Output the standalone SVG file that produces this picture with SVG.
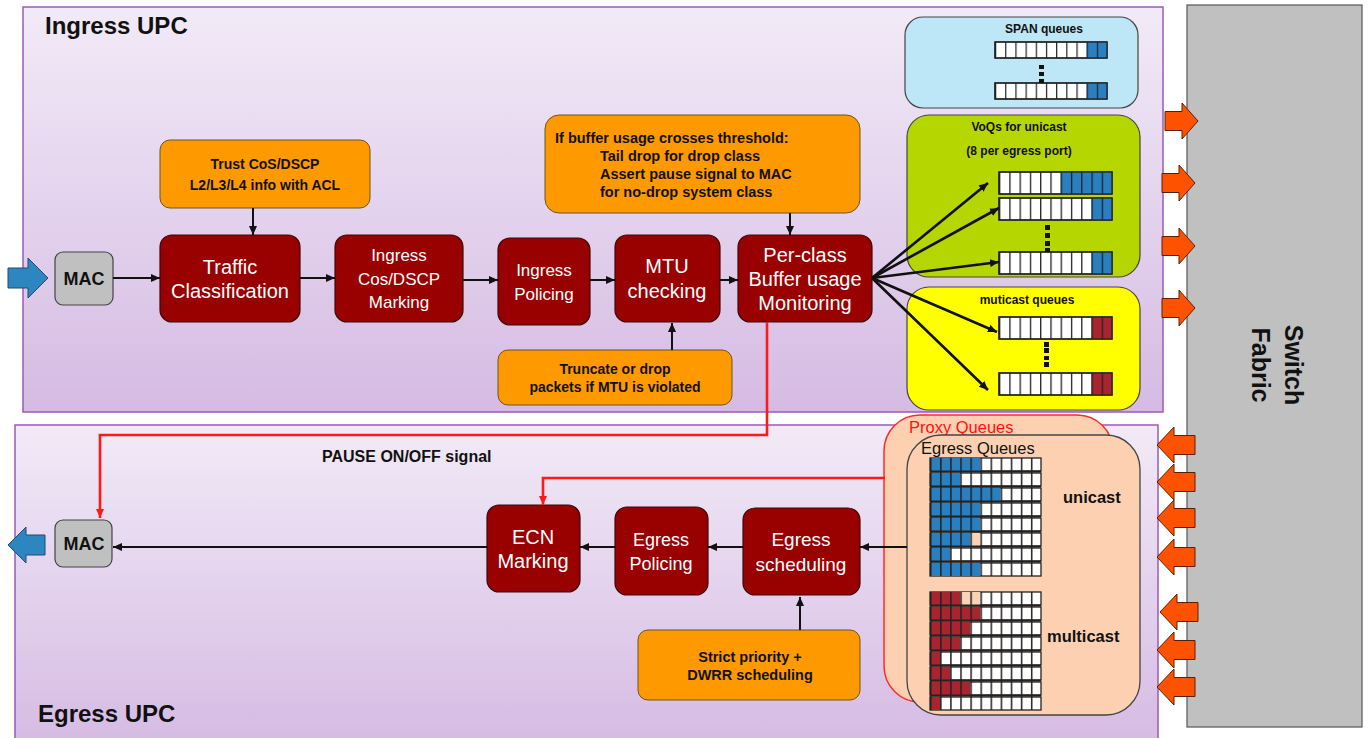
<svg xmlns="http://www.w3.org/2000/svg" width="1372" height="738" viewBox="0 0 1372 738">
<defs>
<linearGradient id="panel" x1="0" y1="0" x2="0" y2="1">
<stop offset="0" stop-color="#f2eaf7"/>
<stop offset="1" stop-color="#d5bbe3"/>
</linearGradient>
<marker id="ah" markerUnits="userSpaceOnUse" markerWidth="10" markerHeight="10" refX="9" refY="5" orient="auto">
<path d="M0,1 L9,5 L0,9 Z" fill="#111"/>
</marker>
<marker id="ahr" markerUnits="userSpaceOnUse" markerWidth="10" markerHeight="10" refX="9" refY="5" orient="auto">
<path d="M0,1 L9,5 L0,9 Z" fill="#ff1a1a"/>
</marker>
<pattern id="gS" patternUnits="userSpaceOnUse" x="995" y="0" width="10.18" height="10"><rect x="0" y="0" width="1.2" height="10" fill="#222"/></pattern>
<pattern id="gV" patternUnits="userSpaceOnUse" x="999" y="0" width="10.27" height="10"><rect x="0" y="0" width="1.3" height="10" fill="#222"/></pattern>
<pattern id="gE" patternUnits="userSpaceOnUse" x="930" y="0" width="10.09" height="10"><rect x="0" y="0" width="1.5" height="10" fill="#222"/></pattern>
<path id="arR" d="M0,-9.5 H17 V-18 L33,0 L17,18 V9.5 H0 Z"/>
<path id="arL" d="M0,0 L17,-18 V-9.5 H38 V9.5 H17 V18 Z"/>
</defs>
<style>
.panel{fill:url(#panel);stroke:#9b5bb5;stroke-width:1.5}
.node{fill:#990000;stroke:#3b0a0a;stroke-width:1.2}
.mac{fill:#c0c0c0;stroke:#444;stroke-width:1.2}
.note{fill:#ff9900;stroke:#6b5520;stroke-width:1}
.nt{font-family:"Liberation Sans",Arial,sans-serif;fill:#fff;text-anchor:middle}
.bt{font-family:"Liberation Sans",Arial,sans-serif;font-weight:bold;fill:#111}
.ct{text-anchor:middle}
.conn{stroke:#111;stroke-width:2;fill:none;marker-end:url(#ah)}
.connb{stroke:#111;stroke-width:2.6;fill:none;marker-end:url(#ah)}
.red{stroke:#ff1a1a;stroke-width:2.6;fill:none;marker-end:url(#ahr)}
.oa{fill:#ff5200;stroke:#5a2000;stroke-width:1}
.ba{fill:#2e86c1;stroke:#1c4d73;stroke-width:1}
.q{fill:#fff;stroke:#222;stroke-width:1.3}
.bl{fill:#2a7fc0}
.rd{fill:#a8252f}
.pc{fill:#fcd3b4}
.dot{fill:#111}
</style>
<rect x="0" y="0" width="1372" height="738" fill="#fff"/>

<g id="ingress-upc">
<rect class="panel" x="23" y="7" width="1140" height="405"/>
<text class="bt" x="45" y="34" font-size="24">Ingress UPC</text>
</g>
<g id="egress-upc">
<rect class="panel" x="15" y="425" width="1143" height="320"/>
<text class="bt" x="38" y="722" font-size="24">Egress  UPC</text>
</g>
<g id="switch-fabric">
<rect x="1187" y="5" width="175" height="722" fill="#c0c0c0" stroke="#555" stroke-width="1.2"/>
<text class="bt ct" font-size="25" transform="translate(1277,365) rotate(90)"><tspan x="0" y="-8">Switch</tspan><tspan x="0" y="25">Fabric</tspan></text>
</g>

<g id="fabric-arrows">
<use href="#arR" class="oa" x="1165" y="121"/>
<use href="#arR" class="oa" x="1162" y="183"/>
<use href="#arR" class="oa" x="1162" y="246"/>
<use href="#arR" class="oa" x="1162" y="308"/>
<use href="#arL" class="oa" x="1157" y="445"/>
<use href="#arL" class="oa" x="1157" y="482"/>
<use href="#arL" class="oa" x="1157" y="518"/>
<use href="#arL" class="oa" x="1157" y="557"/>
<use href="#arL" class="oa" x="1160" y="612"/>
<use href="#arL" class="oa" x="1157" y="650"/>
<use href="#arL" class="oa" x="1157" y="687"/>
</g>

<g id="in-arrow"><path class="ba" d="M8,268 H28 V258 L48,278 L28,298 V288 H8 Z"/></g>
<g id="out-arrow"><path class="ba" d="M8,545 L26,527 V535 H45 V555 H26 V563 Z"/></g>

<g id="mac-in"><rect class="mac" x="55" y="252" width="58" height="53" rx="8"/><text class="bt ct" x="84" y="285" font-size="18">MAC</text></g>
<g id="traffic-classification"><rect class="node" x="160" y="235" width="140" height="87" rx="12"/><text class="nt" font-size="20"><tspan x="230" y="274">Traffic</tspan><tspan x="230" y="298">Classification</tspan></text></g>
<g id="ingress-marking"><rect class="node" x="335" y="235" width="128" height="87" rx="12"/><text class="nt" font-size="17"><tspan x="399" y="261">Ingress</tspan><tspan x="399" y="285">Cos/DSCP</tspan><tspan x="399" y="308">Marking</tspan></text></g>
<g id="ingress-policing"><rect class="node" x="498" y="238" width="92" height="87" rx="12"/><text class="nt" font-size="17"><tspan x="544" y="276">Ingress</tspan><tspan x="544" y="300">Policing</tspan></text></g>
<g id="mtu-checking"><rect class="node" x="615" y="235" width="105" height="87" rx="12"/><text class="nt" font-size="20"><tspan x="667" y="273">MTU</tspan><tspan x="667" y="298">checking</tspan></text></g>
<g id="buffer-monitoring"><rect class="node" x="738" y="235" width="134" height="87" rx="12"/><text class="nt" font-size="20"><tspan x="805" y="262">Per-class</tspan><tspan x="805" y="286">Buffer usage</tspan><tspan x="805" y="310">Monitoring</tspan></text></g>

<g id="note-trust"><rect class="note" x="160" y="140" width="210" height="68" rx="10"/><text class="bt ct" font-size="14"><tspan x="265" y="169">Trust CoS/DSCP</tspan><tspan x="265" y="190">L2/L3/L4 info with ACL</tspan></text></g>
<g id="note-threshold"><rect class="note" x="545" y="115" width="315" height="98" rx="14"/><text class="bt" font-size="14.5"><tspan x="555" y="143">If buffer usage crosses threshold:</tspan><tspan x="600" y="161">Tail drop for drop class</tspan><tspan x="600" y="179">Assert pause signal to MAC</tspan><tspan x="600" y="197">for no-drop system class</tspan></text></g>
<g id="note-truncate"><rect class="note" x="498" y="350" width="234" height="55" rx="10"/><text class="bt ct" font-size="14"><tspan x="615" y="374">Truncate or drop</tspan><tspan x="615" y="392">packets if MTU is violated</tspan></text></g>

<g id="span-queues">
<rect x="905" y="17" width="233" height="91" rx="18" fill="#bde6f6" stroke="#444" stroke-width="1.2"/>
<text class="bt ct" x="1044" y="33" font-size="12">SPAN queues</text>
<rect class="q" x="995" y="42" width="112" height="16"/><rect class="bl" x="1086.6" y="42" width="20.4" height="16"/><rect x="995" y="42" width="112" height="16" fill="url(#gS)"/><rect x="995" y="42" width="112" height="16" fill="none" stroke="#222" stroke-width="1.3"/>
<rect class="q" x="995" y="83" width="112" height="16"/><rect class="bl" x="1086.6" y="83" width="20.4" height="16"/><rect x="995" y="83" width="112" height="16" fill="url(#gS)"/><rect x="995" y="83" width="112" height="16" fill="none" stroke="#222" stroke-width="1.3"/>
<rect class="dot" x="1039" y="65" width="5" height="4"/><rect class="dot" x="1039" y="72" width="5" height="4"/><rect class="dot" x="1039" y="79" width="5" height="4"/>
</g>

<g id="voq-unicast">
<rect x="907" y="115" width="233" height="162" rx="22" fill="#b5d600" stroke="#444" stroke-width="1.2"/>
<text class="bt ct" x="1019" y="131" font-size="12">VoQs for unicast</text>
<text class="bt ct" x="1019" y="155" font-size="12">(8 per egress port)</text>
<rect class="q" x="999" y="172" width="113" height="22"/><rect class="bl" x="1060.6" y="172" width="51.4" height="22"/><rect x="999" y="172" width="113" height="22" fill="url(#gV)"/><rect x="999" y="172" width="113" height="22" fill="none" stroke="#222" stroke-width="1.3"/>
<rect class="q" x="999" y="198" width="113" height="22"/><rect class="bl" x="1091.5" y="198" width="20.5" height="22"/><rect x="999" y="198" width="113" height="22" fill="url(#gV)"/><rect x="999" y="198" width="113" height="22" fill="none" stroke="#222" stroke-width="1.3"/>
<rect class="q" x="999" y="252" width="113" height="22"/><rect class="bl" x="1091.5" y="252" width="20.5" height="22"/><rect x="999" y="252" width="113" height="22" fill="url(#gV)"/><rect x="999" y="252" width="113" height="22" fill="none" stroke="#222" stroke-width="1.3"/>
<rect class="dot" x="1045" y="225" width="5" height="5"/><rect class="dot" x="1045" y="233" width="5" height="5"/><rect class="dot" x="1045" y="241" width="5" height="5"/><rect class="dot" x="1045" y="248" width="5" height="4"/>
</g>

<g id="multicast-queues">
<rect x="907" y="287" width="233" height="123" rx="22" fill="#ffff00" stroke="#444" stroke-width="1.2"/>
<text class="bt ct" x="1027" y="304" font-size="12">muticast  queues</text>
<rect class="q" x="999" y="317" width="113" height="22"/><rect class="rd" x="1091.5" y="317" width="20.5" height="22"/><rect x="999" y="317" width="113" height="22" fill="url(#gV)"/><rect x="999" y="317" width="113" height="22" fill="none" stroke="#222" stroke-width="1.3"/>
<rect class="q" x="999" y="373" width="113" height="22"/><rect class="rd" x="1091.5" y="373" width="20.5" height="22"/><rect x="999" y="373" width="113" height="22" fill="url(#gV)"/><rect x="999" y="373" width="113" height="22" fill="none" stroke="#222" stroke-width="1.3"/>
<rect class="dot" x="1044" y="342" width="5" height="5"/><rect class="dot" x="1044" y="348" width="5" height="5"/><rect class="dot" x="1044" y="356" width="5" height="4"/><rect class="dot" x="1044" y="362" width="5" height="5"/>
</g>

<g id="proxy-queues">
<rect x="884" y="415" width="229" height="287" rx="36" fill="#fdd0b2" stroke="#ff2a2a" stroke-width="1.5"/>
<text x="909" y="433" font-size="16.5" fill="#ff1010" font-family="'Liberation Sans',Arial,sans-serif">Proxy Queues</text>
</g>

<g id="egress-queues">
<rect x="907" y="435" width="233" height="280" rx="34" fill="#fdd0b2" stroke="#444" stroke-width="1.3"/>
<text x="921" y="454" font-size="16.5" fill="#111" font-family="'Liberation Sans',Arial,sans-serif">Egress Queues</text>
<text class="bt" x="1063" y="503" font-size="16.5">unicast</text>
<text class="bt" x="1047" y="642" font-size="16.5">multicast</text>
<g id="uq">
<rect class="q" x="930" y="458" width="111" height="13"/><rect class="bl" x="930" y="458" width="50.45" height="13"/>
<rect class="q" x="930" y="473" width="111" height="13"/><rect class="bl" x="930" y="473" width="30.27" height="13"/>
<rect class="q" x="930" y="488" width="111" height="13"/><rect class="bl" x="930" y="488" width="70.63" height="13"/>
<rect class="q" x="930" y="503" width="111" height="13"/><rect class="bl" x="930" y="503" width="50.45" height="13"/>
<rect class="q" x="930" y="518" width="111" height="13"/><rect class="bl" x="930" y="518" width="50.45" height="13"/>
<rect class="q" x="930" y="533" width="111" height="13"/><rect class="bl" x="930" y="533" width="40.36" height="13"/><rect class="pc" x="970.36" y="533" width="10.09" height="13"/>
<rect class="q" x="930" y="548" width="111" height="13"/><rect class="bl" x="930" y="548" width="20.18" height="13"/>
<rect class="q" x="930" y="563" width="111" height="13"/><rect class="bl" x="930" y="563" width="50.45" height="13"/>
</g>
<g id="mq">
<rect class="q" x="930" y="592" width="111" height="13"/><rect class="rd" x="930" y="592" width="30.27" height="13"/><rect class="pc" x="960.27" y="592" width="20.18" height="13"/>
<rect class="q" x="930" y="607" width="111" height="13"/><rect class="rd" x="930" y="607" width="50.45" height="13"/>
<rect class="q" x="930" y="622" width="111" height="13"/><rect class="rd" x="930" y="622" width="40.36" height="13"/>
<rect class="q" x="930" y="637" width="111" height="13"/><rect class="rd" x="930" y="637" width="30.27" height="13"/>
<rect class="q" x="930" y="652" width="111" height="13"/><rect class="rd" x="930" y="652" width="10.09" height="13"/>
<rect class="q" x="930" y="667" width="111" height="13"/><rect class="rd" x="930" y="667" width="20.18" height="13"/>
<rect class="q" x="930" y="682" width="111" height="13"/><rect class="rd" x="930" y="682" width="40.36" height="13"/>
<rect class="q" x="930" y="697" width="111" height="13"/><rect class="rd" x="930" y="697" width="10.09" height="13"/>
</g>
<rect x="930" y="458" width="111" height="118" fill="url(#gE)"/>
<rect x="930" y="592" width="111" height="118" fill="url(#gE)"/>
<path d="M930,471.5 H1041 M930,486.5 H1041 M930,501.5 H1041 M930,516.5 H1041 M930,531.5 H1041 M930,546.5 H1041 M930,561.5 H1041 M930,605.5 H1041 M930,620.5 H1041 M930,635.5 H1041 M930,650.5 H1041 M930,665.5 H1041 M930,680.5 H1041 M930,695.5 H1041" stroke="#222" stroke-width="2.2" fill="none"/>
</g>

<g id="mac-out"><rect class="mac" x="55" y="520" width="57" height="47" rx="8"/><text class="bt ct" x="84" y="550" font-size="18">MAC</text></g>
<g id="ecn-marking"><rect class="node" x="487" y="505" width="93" height="87" rx="12"/><text class="nt" font-size="20"><tspan x="533" y="544">ECN</tspan><tspan x="533" y="568">Marking</tspan></text></g>
<g id="egress-policing"><rect class="node" x="615" y="507" width="93" height="88" rx="12"/><text class="nt" font-size="18"><tspan x="661" y="546">Egress</tspan><tspan x="661" y="570">Policing</tspan></text></g>
<g id="egress-scheduling"><rect class="node" x="743" y="508" width="117" height="87" rx="12"/><text class="nt" font-size="19"><tspan x="801" y="546">Egress</tspan><tspan x="801" y="571">scheduling</tspan></text></g>
<g id="note-scheduling"><rect class="note" x="638" y="630" width="222" height="70" rx="10"/><text class="bt ct" font-size="14.5"><tspan x="750" y="662">Strict priority +</tspan><tspan x="750" y="680">DWRR scheduling</tspan></text></g>

<g id="pause-label"><text class="bt" x="322" y="462" font-size="16">PAUSE ON/OFF signal</text></g>

<g id="connectors">
<path class="conn" d="M113,278 H160"/>
<path class="conn" d="M300,278 H335"/>
<path class="conn" d="M463,280 H498"/>
<path class="conn" d="M590,280 H615"/>
<path class="conn" d="M720,280 H738"/>
<path class="conn" d="M253,208 V235" stroke-width="1.5"/>
<path class="conn" d="M790,213 V235" stroke-width="1.5"/>
<path class="conn" d="M672,350 V323" stroke-width="1.5"/>
<path class="conn" d="M800,630 V597" stroke-width="1.5"/>
<path class="connb" d="M872,278 L988,183"/>
<path class="connb" d="M872,278 L999,208"/>
<path class="connb" d="M872,278 L999,262"/>
<path class="connb" d="M872,278 L997,332"/>
<path class="connb" d="M872,278 L988,390"/>
<path class="conn" d="M907,547 H860"/>
<path class="conn" d="M743,547 H708"/>
<path class="conn" d="M615,547 H580"/>
<path class="conn" d="M487,547 H113"/>
<path class="red" d="M767,322 V435 H100 V518"/>
<path class="red" d="M885,478 H543 V505"/>
</g>
</svg>
